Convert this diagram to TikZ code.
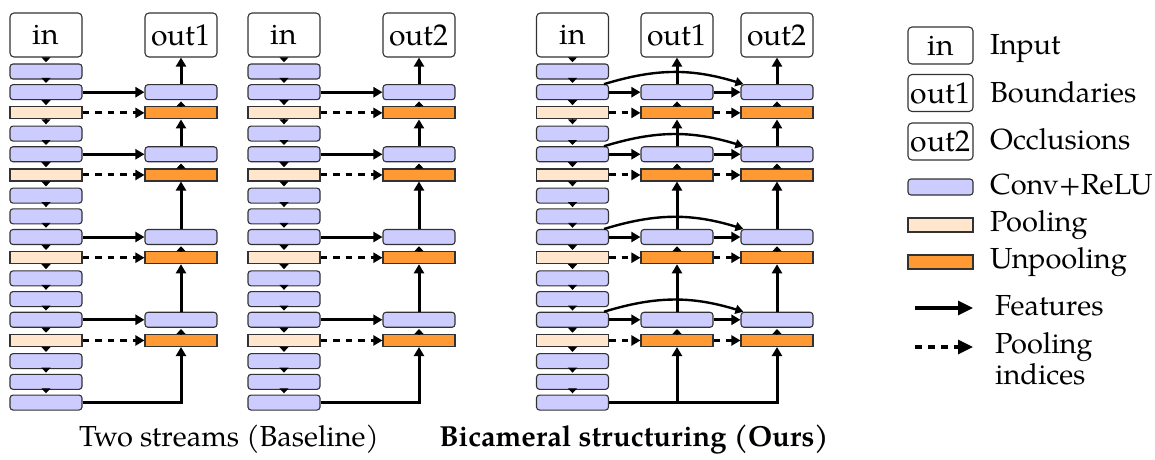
\documentclass[tikz,border=0pt]{standalone}
\usepackage{fontspec}
\setmainfont{TeX Gyre Pagella}
\usetikzlibrary{arrows.meta}
\definecolor{convc}{RGB}{204,204,255}
\definecolor{poolc}{RGB}{255,230,204}
\definecolor{unpc}{RGB}{255,153,51}
\definecolor{edgec}{RGB}{50,50,50}
\newcommand\rowy[1]{-71.5-20.69*#1}
\newcommand\myencoder[2]{%
  \node[iobox] (#1in) at (#2,-35) {in};
  \foreach \i/\t in {0/conv,1/conv,2/pool,3/conv,4/conv,5/pool,6/conv,7/conv,8/conv,9/pool,10/conv,11/conv,12/conv,13/pool,14/conv,15/conv,16/conv}{
    \node[\t] (#1\i) at (#2,{\rowy{\i}}) {};
  }
  \draw[small] (#1in.south) -- (#10.north);
  \foreach \i in {0,...,15}{
    \pgfmathtruncatemacro\j{\i+1}
    \draw[small] (#1\i.south) -- (#1\j.north);
  }
}
\newcommand\mydecoder[3]{%
  \node[iobox] (#1out) at (#2,-35) {#3};
  \foreach \r in {1,4,8,12}{\node[conv] (#1c\r) at (#2,{\rowy{\r}}) {};}
  \foreach \r in {2,5,9,13}{\node[unpool] (#1u\r) at (#2,{\rowy{\r}}) {};}
  \draw[small] (#1u2.north) -- (#1c1.south);
  \draw[small] (#1u5.north) -- (#1c4.south);
  \draw[small] (#1u9.north) -- (#1c8.south);
  \draw[small] (#1u13.north) -- (#1c12.south);
  \draw[feat] (#1c1.north) -- (#1out.south);
  \draw[feat] (#1c4.north) -- (#1u2.south);
  \draw[feat] (#1c8.north) -- (#1u5.south);
  \draw[feat] (#1c12.north) -- (#1u9.south);
}
\begin{document}
\begin{tikzpicture}[x=1pt,y=1pt,
  box/.style={draw=edgec,line width=1.1pt,inner sep=0pt,minimum width=72pt},
  conv/.style={box,fill=convc,rounded corners=3pt,minimum height=15pt},
  pool/.style={box,fill=poolc,minimum height=12pt},
  unpool/.style={box,fill=unpc,minimum height=12pt},
  iobox/.style={box,fill=white,rounded corners=4pt,minimum height=44pt,font=\fontsize{30}{36}\selectfont},
  small/.style={-{Triangle[length=5pt,width=9pt]},line width=1.2pt,shorten >=1.2pt},
  feat/.style={-{Triangle[length=9pt,width=10pt]},line width=3pt},
  curv/.style={-{Triangle[length=8pt,width=9pt]},line width=2.4pt},
  idx/.style={feat,dash pattern=on 6.5pt off 6pt},
  legarr/.style={-{Triangle[length=15pt,width=14pt]},line width=3.2pt},
  legidx/.style={legarr,dash pattern=on 7pt off 6pt},
  lbl/.style={font=\fontsize{29}{37}\selectfont,anchor=base west,inner sep=0pt},
  captext/.style={font=\fontsize{29}{35}\selectfont,anchor=base,inner sep=0pt},
]
\useasboundingbox (0,0) rectangle (1155,-459);
% ---- two streams ----
\myencoder{A}{46}
\mydecoder{P}{181}{out1}
\myencoder{B}{284}
\mydecoder{Q}{419}{out2}
\foreach \c/\u in {1/2,4/5,8/9,12/13}{
  \draw[feat] (A\c.east) -- (Pc\c.west);
  \draw[idx] (A\u.east) -- (Pu\u.west);
  \draw[feat] (B\c.east) -- (Qc\c.west);
  \draw[idx] (B\u.east) -- (Qu\u.west);
}
\draw[feat] (A16.east) -| (Pu13.south);
\draw[feat] (B16.east) -| (Qu13.south);
% ---- bicameral ----
\myencoder{C}{572.5}
\mydecoder{D}{677}{out1}
\mydecoder{E}{777}{out2}
\foreach \c/\u in {1/2,4/5,8/9,12/13}{
  \draw[feat] (C\c.east) -- (Dc\c.west);
  \draw[feat] (Dc\c.east) -- (Ec\c.west);
  \draw[idx] (C\u.east) -- (Du\u.west);
  \draw[idx] (Du\u.east) -- (Eu\u.west);
  \draw[curv] ([xshift=-5pt]C\c.north east) to[bend left=17] ([xshift=3pt]Ec\c.north west);
}
\draw[feat] (C16.east) -| (Du13.south);
\draw[feat] (C16.east) -| (Eu13.south);
% ---- legend ----
\node[iobox,minimum width=65pt,minimum height=37pt] (Lin) at (940.5,-45.5) {in};
\node[iobox,minimum width=65pt,minimum height=37pt] (Lo1) at (940.5,-93) {out1};
\node[iobox,minimum width=65pt,minimum height=37pt] (Lo2) at (940.5,-141.5) {out2};
\node[conv,minimum width=65pt,minimum height=16pt] (Lc) at (940.5,-187) {};
\node[pool,minimum width=65pt,minimum height=14pt] (Lp) at (940.5,-225) {};
\node[unpool,minimum width=65pt,minimum height=14pt] (Lu) at (940.5,-262) {};
\coordinate (Lf1) at (915,-308);
\coordinate (Lf2) at (973,-308);
\coordinate (Ld1) at (915,-347);
\coordinate (Ld2) at (973,-347);
\draw[legarr] (Lf1) -- (Lf2);
\draw[legidx] (Ld1) -- (Ld2);
\node[lbl] (tIn) at (990,-54) {Input};
\node[lbl] (tBo) at (990,-102) {Boundaries};
\node[lbl] (tOc) at (990,-149) {Occlusions};
\node[lbl] (tCo) at (990,-194) {Conv+ReLU};
\node[lbl] (tPo) at (990,-231) {Pooling};
\node[lbl] (tUn) at (990,-268) {Unpooling};
\node[lbl] (tFe) at (995,-315) {Features};
\node[lbl] (tPi) at (995,-353) {Pooling};
\node[lbl] (tPi2) at (995,-384) {indices};
% ---- captions ----
\node[captext] (cap1) at (229,-446) {Two streams (Baseline)};
\node[captext] (cap2) at (634,-446) {\bfseries Bicameral structuring (Ours)};
\end{tikzpicture}
\end{document}
